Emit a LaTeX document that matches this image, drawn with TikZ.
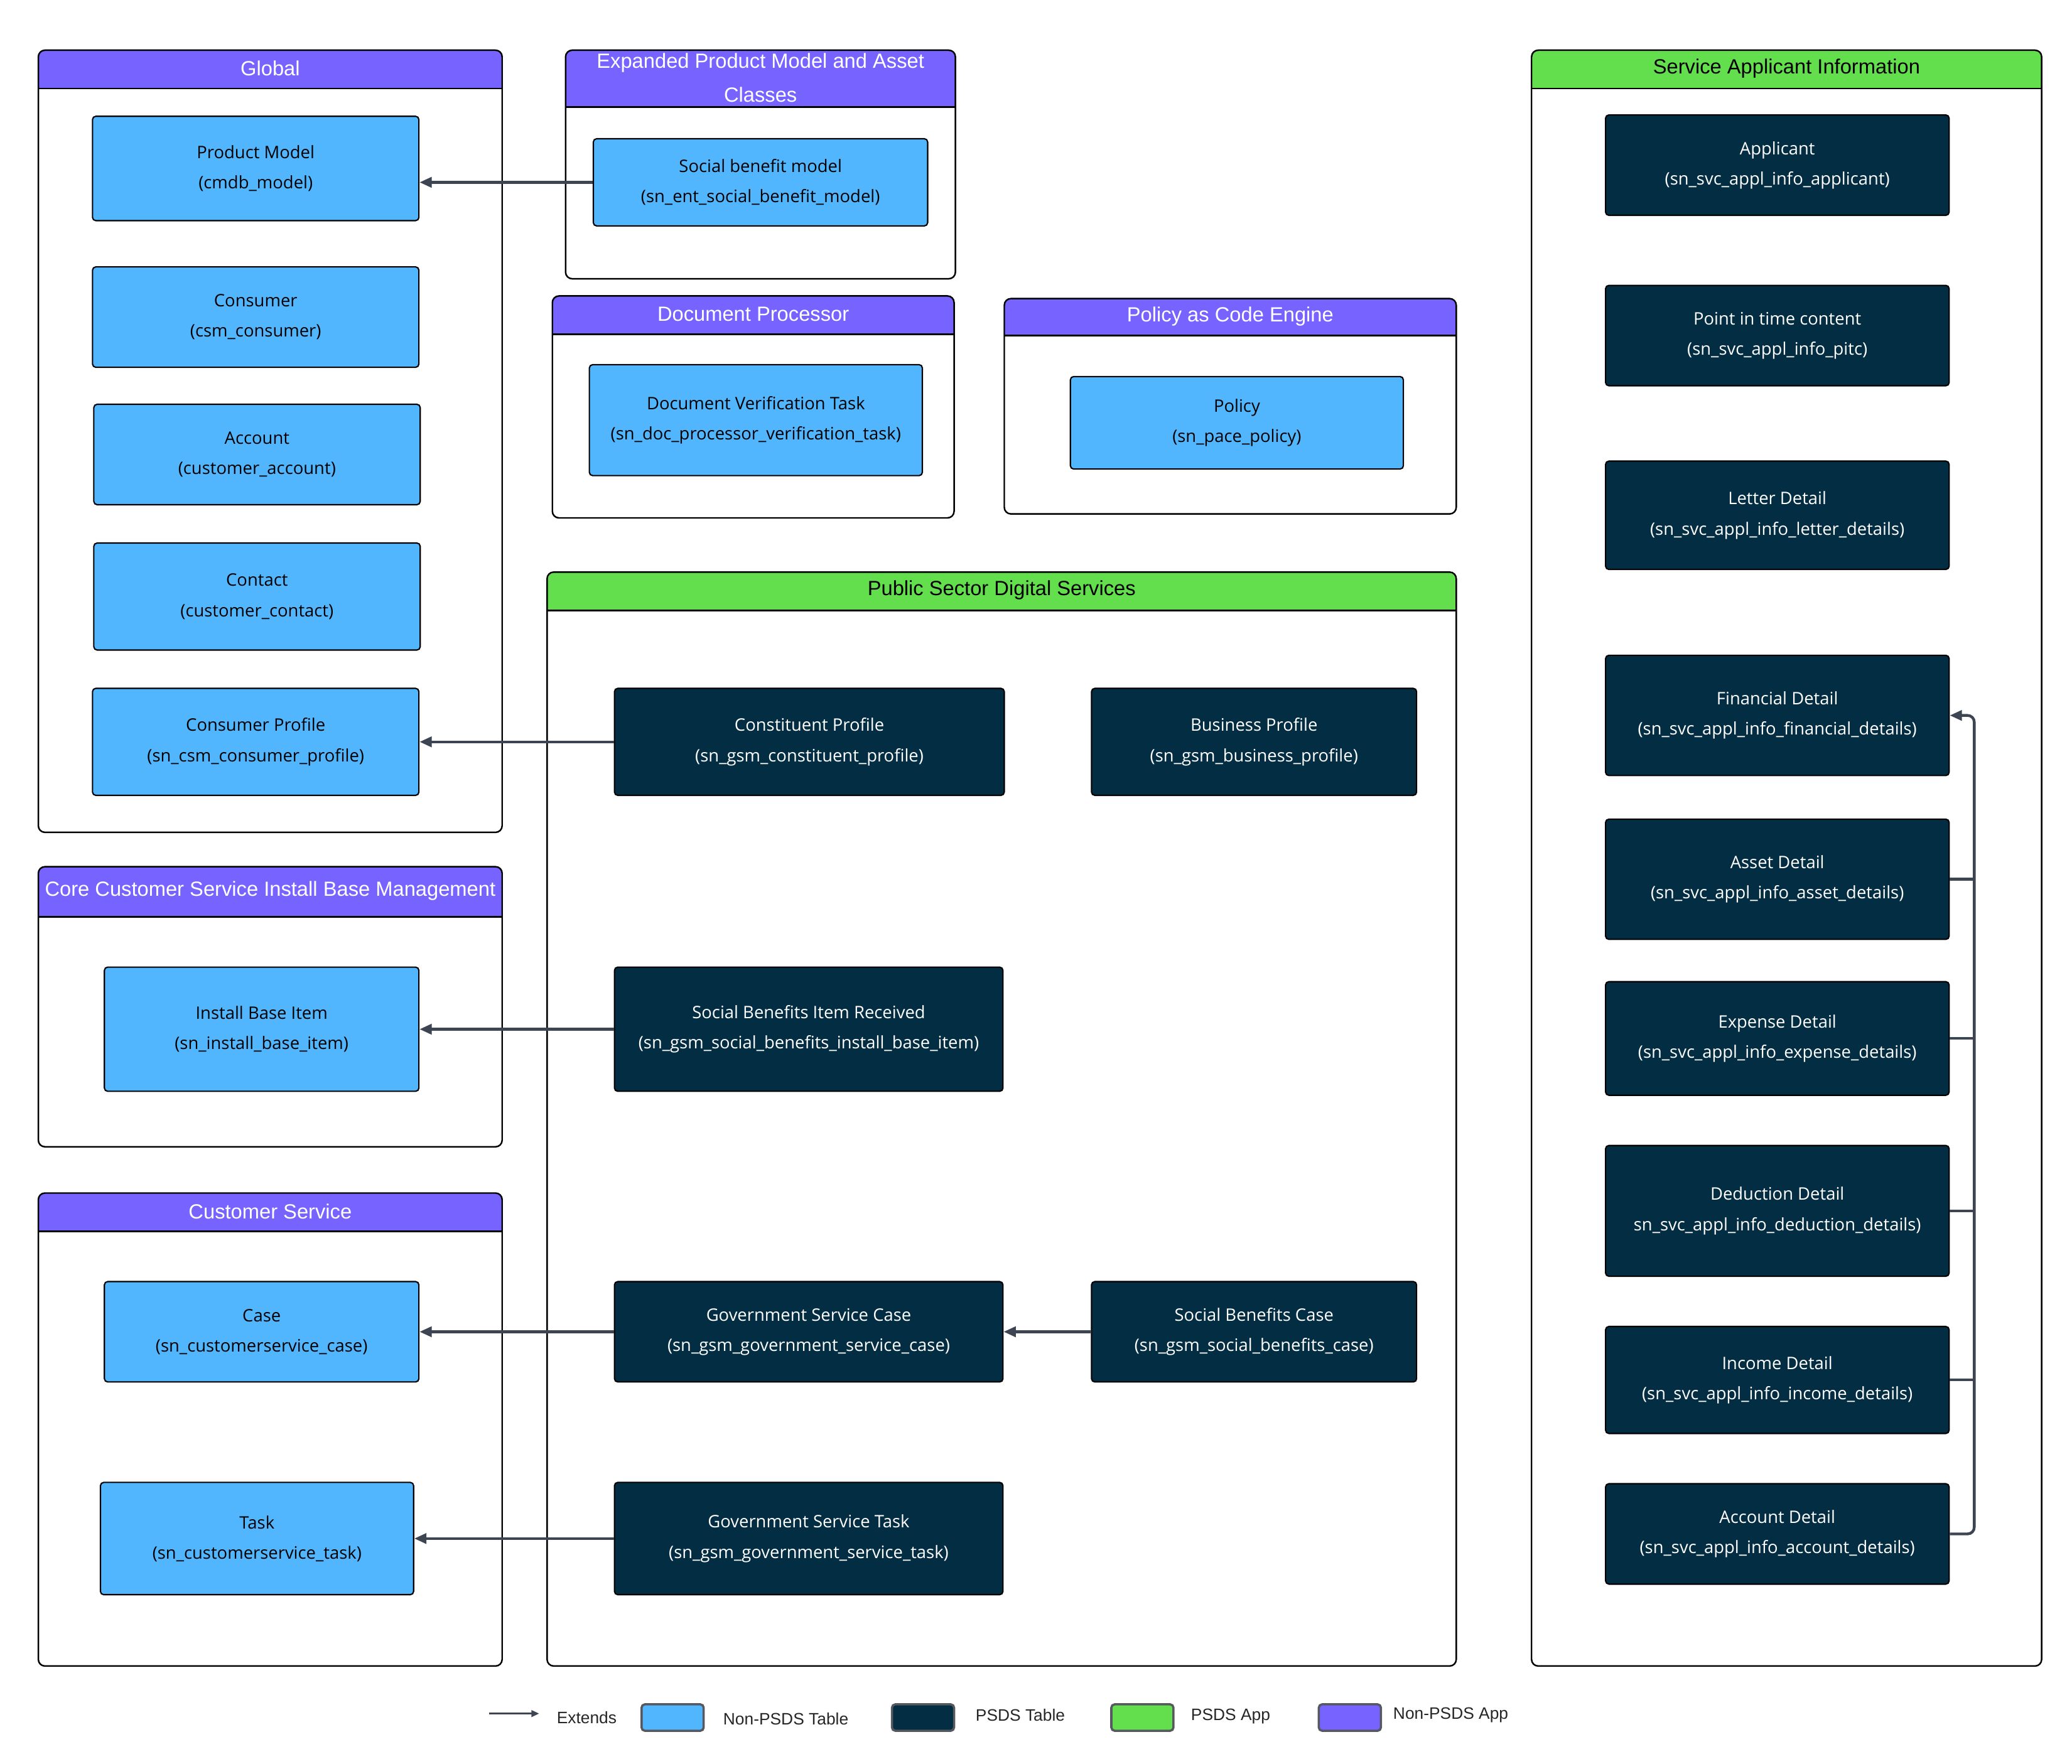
\documentclass[tikz,border=0pt]{standalone}
\usepackage{fontspec}
\setmainfont{Liberation Sans}
\newfontfamily\nodefam{Open Sans}
\usetikzlibrary{arrows.meta}
\definecolor{nonpsds}{HTML}{52B6FF}
\definecolor{psds}{HTML}{032D42}
\definecolor{appgreen}{HTML}{63DF4E}
\definecolor{apppurple}{HTML}{7763FF}
\definecolor{arrowgray}{HTML}{3E4552}
\definecolor{swatchborder}{HTML}{55585E}
\newcommand\tbl[7]{\node[#1, minimum width={(#5-#3)*0.021046cm}, minimum height={(#6-#4)*0.021046cm}] (#2) at ({(#3+#5)/2},{(#4+#6)/2}) {#7};}
\newcommand\container[9]{%
  \fill[#7, rounded corners=3pt] (#2,#3) rectangle (#4,#5);
  \fill[#7] (#2,#5-6) rectangle (#4,#5);
  \draw[cont] (#2,#3) rectangle (#4,#6);
  \draw[line width=0.7pt] (#2,#5) -- (#4,#5);
  \node[htitle, text=#8] (#1) at ({(#2+#4)/2},{(#3+#5)/2-0.7}) {#9};}
\begin{document}
\begin{tikzpicture}[x=0.021046cm, y=-0.021046cm,
  lt/.style={draw=black, line width=0.6pt, fill=nonpsds, rounded corners=1.5pt, text=black, inner sep=0pt,
     font=\nodefam\fontsize{7.8}{13.7}\selectfont, align=center},
  dk/.style={lt, fill=psds, text=white},
  arr/.style={draw=arrowgray, line width=1.25pt, -{Triangle[length=5.5pt,width=4.6pt]}},
  bus/.style={draw=arrowgray, line width=1.25pt},
  cont/.style={draw=black, line width=0.7pt, rounded corners=3pt},
  htitle/.style={font=\fontsize{9.3}{15.5}\selectfont, align=center},
  swatch/.style={draw=swatchborder, line width=1pt, rounded corners=1.5pt, minimum width={47*0.021046cm}, minimum height={20*0.021046cm}, inner sep=0pt},
  lgtext/.style={font=\fontsize{7.5}{9}\selectfont, anchor=west, text=black!85, inner sep=0pt}
]
\useasboundingbox (0,0) rectangle (1568,1335);

% ---------- containers ----------
\container{gGlobal}{29}{38}{380}{67}{630}{apppurple}{white}{Global}
\container{gExp}{428}{38}{723}{81}{211}{apppurple}{white}{Expanded Product Model and Asset\\Classes}
\container{gDoc}{418}{224}{722}{253}{392}{apppurple}{white}{Document Processor}
\container{gPol}{760}{226}{1102}{254}{389}{apppurple}{white}{Policy as Code Engine}
\container{gPsds}{414}{433}{1102}{462}{1261}{appgreen}{black}{Public Sector Digital Services}
\container{gCore}{29}{656}{380}{694}{868}{apppurple}{white}{Core Customer Service Install Base Management}
\container{gCs}{29}{903}{380}{932}{1261}{apppurple}{white}{Customer Service}
\container{gSai}{1159}{38}{1545}{67}{1261}{appgreen}{black}{Service Applicant Information}

% ---------- Global ----------
\tbl{lt}{prodmodel}{70}{88}{317}{167}{Product Model\\(cmdb\_model)}
\tbl{lt}{consumer}{70}{202}{317}{278}{Consumer\\(csm\_consumer)}
\tbl{lt}{account}{71}{306}{318}{382}{Account\\(customer\_account)}
\tbl{lt}{contact}{71}{411}{318}{492}{Contact\\(customer\_contact)}
\tbl{lt}{consprof}{70}{521}{317}{602}{Consumer Profile\\(sn\_csm\_consumer\_profile)}

% ---------- other non-PSDS ----------
\tbl{lt}{socmodel}{449}{105}{702}{171}{Social benefit model\\(sn\_ent\_social\_benefit\_model)}
\tbl{lt}{docver}{446}{276}{698}{360}{Document Verification Task\\(sn\_doc\_processor\_verification\_task)}
\tbl{lt}{policy}{810}{285}{1062}{355}{Policy\\(sn\_pace\_policy)}
\tbl{lt}{ibitem}{79}{732}{317}{826}{Install Base Item\\(sn\_install\_base\_item)}
\tbl{lt}{case}{79}{970}{317}{1046}{Case\\(sn\_customerservice\_case)}
\tbl{lt}{task}{76}{1122}{313}{1207}{Task\\(sn\_customerservice\_task)}

% ---------- PSDS ----------
\tbl{dk}{constprof}{465}{521}{760}{602}{Constituent Profile\\(sn\_gsm\_constituent\_profile)}
\tbl{dk}{busprof}{826}{521}{1072}{602}{Business Profile\\(sn\_gsm\_business\_profile)}
\tbl{dk}{sbitem}{465}{732}{759}{826}{Social Benefits Item Received\\(sn\_gsm\_social\_benefits\_install\_base\_item)}
\tbl{dk}{govcase}{465}{970}{759}{1046}{Government Service Case\\(sn\_gsm\_government\_service\_case)}
\tbl{dk}{sbcase}{826}{970}{1072}{1046}{Social Benefits Case\\(sn\_gsm\_social\_benefits\_case)}
\tbl{dk}{govtask}{465}{1122}{759}{1207}{Government Service Task\\(sn\_gsm\_government\_service\_task)}

% ---------- Service Applicant Information ----------
\tbl{dk}{applicant}{1215}{87}{1475}{163}{Applicant\\(sn\_svc\_appl\_info\_applicant)}
\tbl{dk}{pitc}{1215}{216}{1475}{292}{Point in time content\\(sn\_svc\_appl\_info\_pitc)}
\tbl{dk}{letter}{1215}{349}{1475}{431}{Letter Detail\\(sn\_svc\_appl\_info\_letter\_details)}
\tbl{dk}{fin}{1215}{496}{1475}{587}{Financial Detail\\(sn\_svc\_appl\_info\_financial\_details)}
\tbl{dk}{asset}{1215}{620}{1475}{711}{Asset Detail\\(sn\_svc\_appl\_info\_asset\_details)}
\tbl{dk}{expense}{1215}{743}{1475}{829}{Expense Detail\\(sn\_svc\_appl\_info\_expense\_details)}
\tbl{dk}{deduction}{1215}{867}{1475}{966}{Deduction Detail\\sn\_svc\_appl\_info\_deduction\_details)}
\tbl{dk}{income}{1215}{1004}{1475}{1085}{Income Detail\\(sn\_svc\_appl\_info\_income\_details)}
\tbl{dk}{acct}{1215}{1123}{1475}{1199}{Account Detail\\(sn\_svc\_appl\_info\_account\_details)}

% ---------- connectors ----------
\draw[arr] (socmodel.west) -- (socmodel.west -| prodmodel.east);
\draw[arr] (constprof.west) -- (constprof.west -| consprof.east);
\draw[arr] (sbitem.west) -- (sbitem.west -| ibitem.east);
\draw[arr] (govcase.west) -- (govcase.west -| case.east);
\draw[arr] (sbcase.west) -- (govcase.east);
\draw[arr] (govtask.west) -- (govtask.west -| task.east);

\coordinate (busx) at (1494,541);
\draw[arr, rounded corners=3pt] (acct.east) -- (acct.east -| busx) -- (fin.east -| busx) -- (fin.east);
\foreach \n in {asset,expense,deduction,income}
  \draw[bus, rounded corners=2pt] (\n.east) -- (\n.east -| busx);

% ---------- legend ----------
\coordinate (lga) at (370,1297);
\coordinate (lgb) at (408,1297);
\draw[draw=arrowgray, line width=0.8pt, -{Triangle[length=3.5pt,width=3pt]}] (lga) -- (lgb);
\node[lgtext] (lgext) at (421,1300) {Extends};
\node[swatch, fill=nonpsds] (swa) at (509,1300) {};
\node[lgtext] (lgnt) at (547,1301) {Non-PSDS Table};
\node[swatch, fill=psds] (swb) at (698.5,1300) {};
\node[lgtext] (lgpt) at (738,1298) {PSDS Table};
\node[swatch, fill=appgreen] (swc) at (864.5,1300) {};
\node[lgtext] (lgpa) at (901,1299) {PSDS App};
\node[swatch, fill=apppurple] (swd) at (1021.5,1300) {};
\node[lgtext] (lgna) at (1054,1298) {Non-PSDS App};
\end{tikzpicture}
\end{document}
